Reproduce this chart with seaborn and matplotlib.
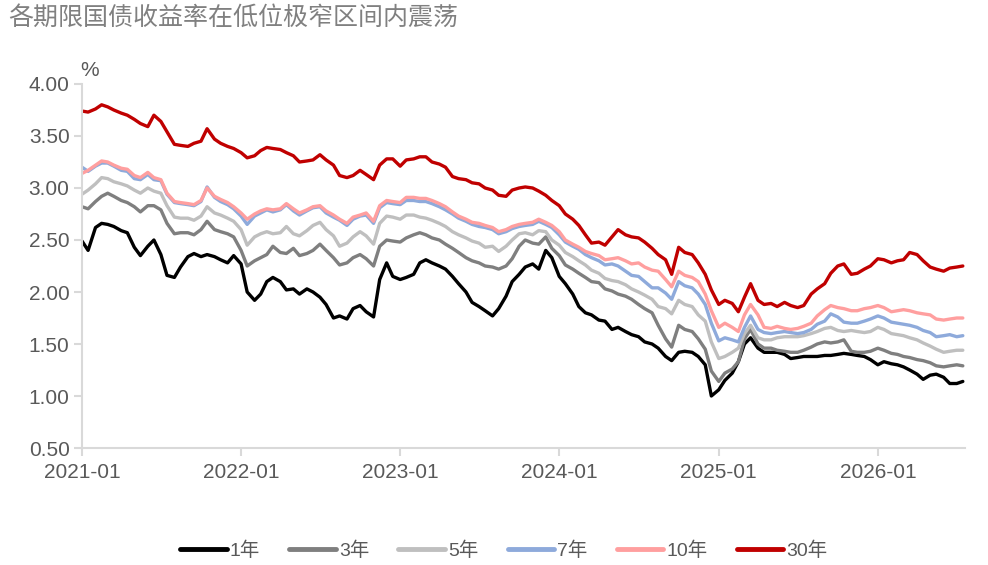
import matplotlib
matplotlib.use("Agg")
import matplotlib.pyplot as plt
import matplotlib.dates as mdates
import numpy as np
import pandas as pd
import seaborn as sns

# ---------------------------------------------------------
# DATA (semi-monthly readings, %)
# ---------------------------------------------------------
dates = pd.date_range("2021-01-01", periods=134, freq="SMS")
tenors = ["1年", "3年", "5年", "7年", "10年", "30年"]
colors = ["#000000", "#7f7f7f", "#bfbfbf", "#8eaadb", "#ff9f9f", "#c00000"]

y1 = [2.49, 2.40, 2.62, 2.66, 2.65, 2.63, 2.59, 2.57, 2.43, 2.35, 2.44, 2.50,
      2.36, 2.16, 2.14, 2.24, 2.34, 2.37, 2.34, 2.36, 2.34, 2.31, 2.28, 2.35,
      2.27, 2.00, 1.92, 1.98, 2.10, 2.14, 2.10, 2.02, 2.03, 1.98, 2.03, 2.00,
      1.95, 1.88, 1.75, 1.77, 1.74, 1.84, 1.87, 1.81, 1.76, 2.12, 2.28, 2.15,
      2.12, 2.14, 2.17, 2.28, 2.31, 2.28, 2.25, 2.22, 2.15, 2.08, 2.00, 1.90,
      1.86, 1.82, 1.77, 1.84, 1.96, 2.10, 2.17, 2.24, 2.27, 2.22, 2.40, 2.33,
      2.15, 2.08, 1.98, 1.86, 1.80, 1.78, 1.73, 1.72, 1.64, 1.66, 1.62, 1.59,
      1.57, 1.52, 1.50, 1.46, 1.38, 1.34, 1.42, 1.43, 1.42, 1.38, 1.30, 1.00,
      1.06, 1.15, 1.22, 1.33, 1.50, 1.56, 1.46, 1.42, 1.42, 1.42, 1.40, 1.36,
      1.37, 1.38, 1.38, 1.38, 1.39, 1.39, 1.40, 1.41, 1.40, 1.39, 1.38, 1.35,
      1.30, 1.33, 1.31, 1.30, 1.28, 1.25, 1.21, 1.16, 1.20, 1.21, 1.18, 1.12,
      1.12, 1.14]

y3 = [2.82, 2.80, 2.87, 2.92, 2.95, 2.92, 2.88, 2.86, 2.82, 2.77, 2.83, 2.83,
      2.79, 2.66, 2.56, 2.57, 2.57, 2.55, 2.60, 2.68, 2.60, 2.58, 2.56, 2.53,
      2.40, 2.25, 2.30, 2.33, 2.36, 2.44, 2.38, 2.37, 2.42, 2.35, 2.37, 2.40,
      2.46, 2.40, 2.33, 2.26, 2.28, 2.33, 2.36, 2.32, 2.25, 2.44, 2.50, 2.49,
      2.48, 2.52, 2.55, 2.57, 2.55, 2.52, 2.50, 2.46, 2.42, 2.38, 2.33, 2.30,
      2.28, 2.25, 2.24, 2.22, 2.25, 2.32, 2.44, 2.50, 2.47, 2.46, 2.53, 2.42,
      2.35, 2.26, 2.22, 2.18, 2.14, 2.10, 2.09, 2.03, 2.01, 1.98, 1.96, 1.93,
      1.88, 1.84, 1.80, 1.68, 1.55, 1.47, 1.68, 1.64, 1.62, 1.55, 1.45, 1.24,
      1.14, 1.22, 1.26, 1.33, 1.55, 1.64, 1.50, 1.46, 1.46, 1.44, 1.43, 1.42,
      1.42, 1.44, 1.47, 1.50, 1.52, 1.51, 1.52, 1.54, 1.43, 1.42, 1.42, 1.43,
      1.46, 1.44, 1.41, 1.40, 1.38, 1.37, 1.35, 1.34, 1.32, 1.29, 1.28, 1.29,
      1.30, 1.29]

y5 = [2.94, 2.98, 3.04, 3.10, 3.09, 3.06, 3.04, 3.02, 2.98, 2.95, 3.00, 2.97,
      2.95, 2.83, 2.72, 2.71, 2.71, 2.69, 2.73, 2.82, 2.76, 2.74, 2.71, 2.68,
      2.60, 2.45, 2.53, 2.56, 2.58, 2.56, 2.57, 2.63, 2.56, 2.54, 2.59, 2.64,
      2.67, 2.60, 2.54, 2.44, 2.47, 2.53, 2.58, 2.54, 2.46, 2.66, 2.73, 2.72,
      2.70, 2.74, 2.74, 2.72, 2.71, 2.69, 2.66, 2.63, 2.58, 2.55, 2.52, 2.49,
      2.47, 2.43, 2.44, 2.39, 2.44, 2.50, 2.56, 2.57, 2.55, 2.59, 2.58, 2.50,
      2.45, 2.38, 2.34, 2.30, 2.26, 2.21, 2.18, 2.13, 2.11, 2.10, 2.07, 2.03,
      2.00, 1.97, 1.93, 1.86, 1.84, 1.79, 1.92, 1.88, 1.86, 1.78, 1.72, 1.52,
      1.36, 1.38, 1.42, 1.46, 1.60, 1.68, 1.56, 1.54, 1.54, 1.56, 1.57, 1.57,
      1.57, 1.58, 1.60, 1.62, 1.65, 1.66, 1.63, 1.62, 1.63, 1.62, 1.61, 1.62,
      1.66, 1.64, 1.60, 1.59, 1.58, 1.56, 1.54, 1.51, 1.48, 1.45, 1.42, 1.43,
      1.44, 1.44]

y7 = [3.20, 3.16, 3.21, 3.24, 3.24, 3.21, 3.17, 3.16, 3.09, 3.08, 3.13, 3.08,
      3.07, 2.94, 2.86, 2.85, 2.84, 2.83, 2.87, 3.01, 2.91, 2.87, 2.84, 2.80,
      2.73, 2.65, 2.73, 2.76, 2.79, 2.77, 2.79, 2.84, 2.78, 2.74, 2.78, 2.81,
      2.82, 2.76, 2.72, 2.69, 2.64, 2.70, 2.73, 2.74, 2.66, 2.81, 2.86, 2.85,
      2.84, 2.88, 2.88, 2.87, 2.87, 2.85, 2.82, 2.79, 2.75, 2.71, 2.68, 2.65,
      2.63, 2.62, 2.60, 2.56, 2.58, 2.61, 2.63, 2.64, 2.65, 2.68, 2.65, 2.62,
      2.55, 2.48, 2.44, 2.41, 2.36, 2.33, 2.30, 2.26, 2.27, 2.25, 2.20, 2.16,
      2.15, 2.10, 2.04, 2.04, 1.99, 1.93, 2.10, 2.06, 2.04, 1.98, 1.88, 1.70,
      1.53, 1.56, 1.54, 1.52, 1.66, 1.77, 1.64, 1.61, 1.60, 1.61, 1.62, 1.61,
      1.60, 1.61, 1.64, 1.69, 1.72, 1.79, 1.76, 1.71, 1.70, 1.70, 1.72, 1.74,
      1.77, 1.75, 1.71, 1.70, 1.69, 1.68, 1.66, 1.63, 1.61, 1.57, 1.58, 1.59,
      1.57, 1.58]

y10 = [3.14, 3.17, 3.22, 3.26, 3.25, 3.22, 3.19, 3.18, 3.12, 3.10, 3.15, 3.10,
       3.08, 2.95, 2.87, 2.86, 2.85, 2.84, 2.88, 3.00, 2.92, 2.89, 2.86, 2.82,
       2.76, 2.70, 2.75, 2.78, 2.80, 2.79, 2.80, 2.85, 2.80, 2.76, 2.79, 2.82,
       2.83, 2.78, 2.74, 2.70, 2.66, 2.72, 2.74, 2.76, 2.68, 2.83, 2.88, 2.87,
       2.86, 2.91, 2.91, 2.90, 2.90, 2.88, 2.85, 2.82, 2.77, 2.73, 2.70, 2.67,
       2.66, 2.64, 2.62, 2.58, 2.60, 2.63, 2.65, 2.66, 2.67, 2.70, 2.67, 2.64,
       2.58, 2.50, 2.46, 2.43, 2.39, 2.37, 2.35, 2.31, 2.32, 2.33, 2.30, 2.27,
       2.28, 2.24, 2.21, 2.20, 2.12, 2.05, 2.20, 2.16, 2.14, 2.10, 1.98, 1.82,
       1.66, 1.70, 1.66, 1.62, 1.78, 1.88, 1.78, 1.66, 1.65, 1.67, 1.65, 1.64,
       1.65, 1.67, 1.70, 1.77, 1.83, 1.87, 1.85, 1.84, 1.82, 1.82, 1.84, 1.85,
       1.87, 1.85, 1.81, 1.82, 1.83, 1.82, 1.80, 1.79, 1.78, 1.74, 1.73, 1.74,
       1.75, 1.75]

y30 = [3.74, 3.73, 3.76, 3.80, 3.78, 3.75, 3.72, 3.70, 3.66, 3.62, 3.59, 3.70,
       3.64, 3.54, 3.42, 3.41, 3.40, 3.43, 3.45, 3.57, 3.47, 3.43, 3.40, 3.38,
       3.34, 3.29, 3.31, 3.36, 3.39, 3.38, 3.37, 3.34, 3.31, 3.25, 3.26, 3.27,
       3.32, 3.27, 3.22, 3.12, 3.10, 3.12, 3.17, 3.13, 3.08, 3.22, 3.28, 3.28,
       3.21, 3.27, 3.28, 3.30, 3.30, 3.25, 3.23, 3.20, 3.11, 3.09, 3.08, 3.05,
       3.04, 3.00, 2.98, 2.93, 2.92, 2.98, 3.00, 3.01, 3.00, 2.97, 2.93, 2.88,
       2.83, 2.75, 2.70, 2.64, 2.55, 2.47, 2.48, 2.45, 2.53, 2.60, 2.55, 2.53,
       2.52, 2.48, 2.42, 2.36, 2.31, 2.17, 2.43, 2.38, 2.36, 2.28, 2.17, 2.02,
       1.88, 1.92, 1.89, 1.81, 1.95, 2.08, 1.92, 1.88, 1.89, 1.86, 1.90, 1.87,
       1.85, 1.87, 1.98, 2.03, 2.08, 2.18, 2.25, 2.27, 2.17, 2.18, 2.22, 2.25,
       2.32, 2.31, 2.28, 2.30, 2.31, 2.38, 2.36, 2.30, 2.24, 2.22, 2.20, 2.23,
       2.24, 2.25]

series = [y1, y3, y5, y7, y10, y30]

df = pd.concat(
    [pd.DataFrame({"date": dates, "tenor": t, "yield": v}) for t, v in zip(tenors, series)],
    ignore_index=True,
)

# ---------------------------------------------------------
# PLOTTING
# ---------------------------------------------------------
sns.set_theme(style="white")
plt.rcParams["font.family"] = ["Liberation Sans", "Noto Sans CJK SC", "DejaVu Sans"]

fig = plt.figure(figsize=(9.88, 5.65), dpi=100)
ax = fig.add_axes([82 / 988, 1 - 448 / 565, (965 - 82) / 988, (448 - 84) / 565])

sns.lineplot(data=df, x="date", y="yield", hue="tenor", hue_order=tenors,
             palette=colors, linewidth=2.4, ax=ax)

ax.set_xlim(pd.Timestamp("2021-01-01"), pd.Timestamp("2026-07-20"))
ax.set_ylim(0.5, 4.0)
ax.set_yticks(np.arange(0.5, 4.01, 0.5))
ax.yaxis.set_major_formatter(matplotlib.ticker.FormatStrFormatter("%.2f"))
ax.xaxis.set_major_locator(mdates.YearLocator())
ax.xaxis.set_major_formatter(mdates.DateFormatter("%Y-%m"))
ax.set_xlabel("")
ax.set_ylabel("")

for side in ["top", "right"]:
    ax.spines[side].set_visible(False)
for side in ["left", "bottom"]:
    ax.spines[side].set_color("#d9d9d9")
    ax.spines[side].set_linewidth(1.5)

ax.tick_params(axis="both", which="major", bottom=True, left=True, direction="out",
               length=6, width=1.5, color="#d9d9d9", labelcolor="#595959", labelsize=15)
ax.tick_params(axis="x", pad=5)
ax.tick_params(axis="y", pad=3)

# legend
handles, labels = ax.get_legend_handles_labels()
leg = ax.legend(handles, labels, loc="lower center", bbox_to_anchor=(0.51, -0.022),
                bbox_transform=fig.transFigure, ncol=6, frameon=False, fontsize=14,
                handlelength=2.4, handletextpad=0.15, columnspacing=1.5)
for line in leg.get_lines():
    line.set_linewidth(3.5)
    line.set_solid_capstyle("round")
for txt in leg.get_texts():
    txt.set_color("#595959")

# title and unit
fig.text(8 / 988, 1 - 18 / 565, "各期限国债收益率在低位极窄区间内震荡", fontsize=18,
         color="#808080", ha="left", va="center",
         family=["Noto Sans CJK SC", "DejaVu Sans"])
fig.text(80 / 988, 1 - 70 / 565, "%", fontsize=15, color="#595959", ha="left", va="center")

fig.savefig("out.png", dpi=100, facecolor="white")
